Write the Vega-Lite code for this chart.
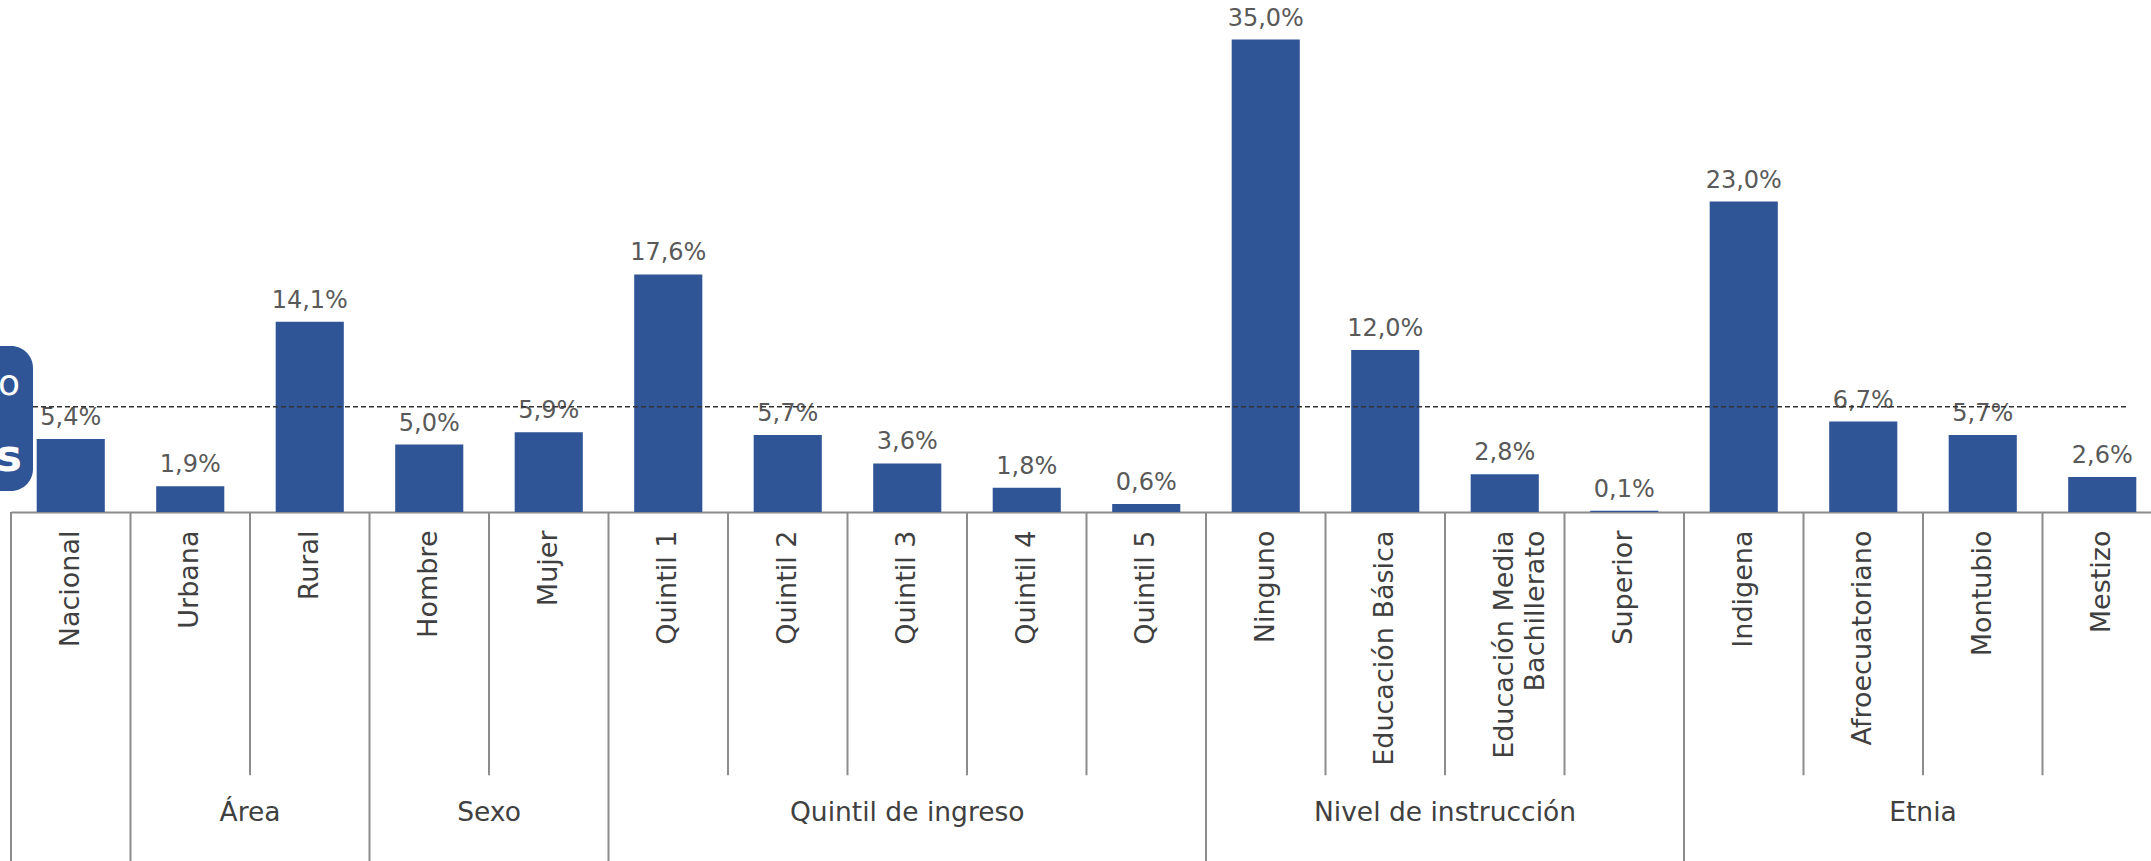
{
  "$schema": "https://vega.github.io/schema/vega-lite/v6.json",
  "width": 2140,
  "height": 486,
  "autosize": {"type": "none"},
  "padding": {"left": 11, "top": 26, "right": 0, "bottom": 349},
  "background": "white",
  "config": {
    "view": {"stroke": null},
    "font": "DejaVu Sans",
    "locale": {"number": {"decimal": ",", "thousands": ".", "grouping": [3], "currency": ["", " €"]}}
  },
  "resolve": {"scale": {"y": "shared"}},
  "datasets": {
    "categorias": [
      {"categoria": "Nacional", "valor": 0.054, "grupo": "Nacional", "inicio": true},
      {"categoria": "Urbana", "valor": 0.019, "grupo": "Área", "inicio": true},
      {"categoria": "Rural", "valor": 0.141, "grupo": "Área", "inicio": false},
      {"categoria": "Hombre", "valor": 0.050, "grupo": "Sexo", "inicio": true},
      {"categoria": "Mujer", "valor": 0.059, "grupo": "Sexo", "inicio": false},
      {"categoria": "Quintil 1", "valor": 0.176, "grupo": "Quintil de ingreso", "inicio": true},
      {"categoria": "Quintil 2", "valor": 0.057, "grupo": "Quintil de ingreso", "inicio": false},
      {"categoria": "Quintil 3", "valor": 0.036, "grupo": "Quintil de ingreso", "inicio": false},
      {"categoria": "Quintil 4", "valor": 0.018, "grupo": "Quintil de ingreso", "inicio": false},
      {"categoria": "Quintil 5", "valor": 0.006, "grupo": "Quintil de ingreso", "inicio": false},
      {"categoria": "Ninguno", "valor": 0.350, "grupo": "Nivel de instrucción", "inicio": true},
      {"categoria": "Educación Básica", "valor": 0.120, "grupo": "Nivel de instrucción", "inicio": false},
      {"categoria": "Educación Media Bachillerato", "valor": 0.028, "grupo": "Nivel de instrucción", "inicio": false},
      {"categoria": "Superior", "valor": 0.001, "grupo": "Nivel de instrucción", "inicio": false},
      {"categoria": "Indigena", "valor": 0.230, "grupo": "Etnia", "inicio": true},
      {"categoria": "Afroecuatoriano", "valor": 0.067, "grupo": "Etnia", "inicio": false},
      {"categoria": "Montubio", "valor": 0.057, "grupo": "Etnia", "inicio": false},
      {"categoria": "Mestizo", "valor": 0.026, "grupo": "Etnia", "inicio": false}
    ],
    "grupos": [
      {"grupo": "Área", "categoria": "Rural", "pos": "borde"},
      {"grupo": "Sexo", "categoria": "Mujer", "pos": "borde"},
      {"grupo": "Quintil de ingreso", "categoria": "Quintil 3", "pos": "centro"},
      {"grupo": "Nivel de instrucción", "categoria": "Educación Media Bachillerato", "pos": "borde"},
      {"grupo": "Etnia", "categoria": "Montubio", "pos": "borde"}
    ],
    "referencia": [{"meta": 0.078, "desde": "Nacional", "hasta": "Mestizo"}]
  },
  "layer": [
    {
      "data": {"name": "categorias"},
      "mark": {"type": "bar", "color": "#2F5597", "width": {"band": 0.57}},
      "encoding": {
        "x": {
          "field": "categoria",
          "type": "nominal",
          "scale": {
            "domain": ["Nacional", "Urbana", "Rural", "Hombre", "Mujer", "Quintil 1", "Quintil 2", "Quintil 3", "Quintil 4", "Quintil 5", "Ninguno", "Educación Básica", "Educación Media Bachillerato", "Superior", "Indigena", "Afroecuatoriano", "Montubio", "Mestizo"],
            "range": [0, 2151],
            "paddingInner": 0,
            "paddingOuter": 0
          },
          "axis": {
            "title": null,
            "ticks": false,
            "domainColor": "#8C8C8C",
            "domainWidth": 2,
            "labelAngle": -90,
            "labelAlign": "right",
            "labelBaseline": "middle",
            "labelPadding": 18,
            "labelFont": "DejaVu Sans",
            "labelFontSize": 27,
            "labelColor": "#404040",
            "labelLimit": 0,
            "labelOverlap": false,
            "labelLineHeight": 31,
            "labelExpr": "datum.label == 'Educación Media Bachillerato' ? ['Educación Media', 'Bachillerato'] : datum.label"
          }
        },
        "y": {"field": "valor", "type": "quantitative", "scale": {"domain": [0, 0.36], "nice": false, "zero": false}, "axis": null}
      }
    },
    {
      "data": {"name": "categorias"},
      "mark": {"type": "text", "font": "DejaVu Sans", "fontSize": 24, "color": "#595959", "baseline": "alphabetic", "dy": -14},
      "encoding": {
        "x": {"field": "categoria", "type": "nominal"},
        "y": {"field": "valor", "type": "quantitative", "scale": {"domain": [0, 0.36], "nice": false, "zero": false}},
        "text": {"field": "valor", "type": "quantitative", "format": ".1%"}
      }
    },
    {
      "data": {"name": "referencia"},
      "mark": {"type": "rule", "color": "#333333", "strokeWidth": 1.5, "strokeDash": [5, 3], "xOffset": 22},
      "encoding": {
        "x": {"field": "desde", "type": "nominal", "bandPosition": 0},
        "x2": {"field": "hasta", "bandPosition": 0.71},
        "y": {"field": "meta", "type": "quantitative", "scale": {"domain": [0, 0.36], "nice": false, "zero": false}}
      }
    },
    {
      "data": {"name": "categorias"},
      "transform": [{"filter": "datum.inicio"}],
      "mark": {"type": "rule", "color": "#8C8C8C", "strokeWidth": 2},
      "encoding": {
        "x": {"field": "categoria", "type": "nominal", "bandPosition": 0},
        "y": {"datum": 0, "type": "quantitative", "scale": {"domain": [0, 0.36], "nice": false, "zero": false}},
        "y2": {"datum": -0.262}
      }
    },
    {
      "data": {"name": "categorias"},
      "transform": [{"filter": "!datum.inicio"}],
      "mark": {"type": "rule", "color": "#8C8C8C", "strokeWidth": 2},
      "encoding": {
        "x": {"field": "categoria", "type": "nominal", "bandPosition": 0},
        "y": {"datum": 0, "type": "quantitative", "scale": {"domain": [0, 0.36], "nice": false, "zero": false}},
        "y2": {"datum": -0.195}
      }
    },
    {
      "data": {"name": "grupos"},
      "transform": [{"filter": "datum.pos == 'borde'"}],
      "mark": {"type": "text", "font": "DejaVu Sans", "fontSize": 26.5, "color": "#404040", "baseline": "middle", "align": "center"},
      "encoding": {
        "x": {"field": "categoria", "type": "nominal", "bandPosition": 0},
        "y": {"datum": -0.223, "type": "quantitative", "scale": {"domain": [0, 0.36], "nice": false, "zero": false}},
        "text": {"field": "grupo", "type": "nominal"}
      }
    },
    {
      "data": {"name": "grupos"},
      "transform": [{"filter": "datum.pos == 'centro'"}],
      "mark": {"type": "text", "font": "DejaVu Sans", "fontSize": 26.5, "color": "#404040", "baseline": "middle", "align": "center"},
      "encoding": {
        "x": {"field": "categoria", "type": "nominal", "bandPosition": 0.5},
        "y": {"datum": -0.223, "type": "quantitative", "scale": {"domain": [0, 0.36], "nice": false, "zero": false}},
        "text": {"field": "grupo", "type": "nominal"}
      }
    },
    {
      "data": {"values": [{}]},
      "mark": {"type": "rect", "color": "#2F5597", "cornerRadius": 22, "xOffset": -300, "x2Offset": 22},
      "encoding": {
        "x": {"datum": "Nacional", "type": "nominal", "bandPosition": 0},
        "x2": {"datum": "Nacional", "bandPosition": 0},
        "y": {"datum": 0.1229, "type": "quantitative", "scale": {"domain": [0, 0.36], "nice": false, "zero": false}},
        "y2": {"datum": 0.0155}
      }
    },
    {
      "data": {"values": [{}]},
      "mark": {"type": "text", "text": "o", "font": "DejaVu Sans", "fontSize": 36, "color": "white", "align": "right", "baseline": "middle", "dx": 9},
      "encoding": {
        "x": {"datum": "Nacional", "type": "nominal", "bandPosition": 0},
        "y": {"datum": 0.0947, "type": "quantitative", "scale": {"domain": [0, 0.36], "nice": false, "zero": false}}
      }
    },
    {
      "data": {"values": [{}]},
      "mark": {"type": "text", "text": "es", "font": "DejaVu Sans", "fontSize": 44, "fontWeight": "bold", "color": "white", "align": "right", "baseline": "middle", "dx": 11},
      "encoding": {
        "x": {"datum": "Nacional", "type": "nominal", "bandPosition": 0},
        "y": {"datum": 0.04, "type": "quantitative", "scale": {"domain": [0, 0.36], "nice": false, "zero": false}}
      }
    }
  ]
}
